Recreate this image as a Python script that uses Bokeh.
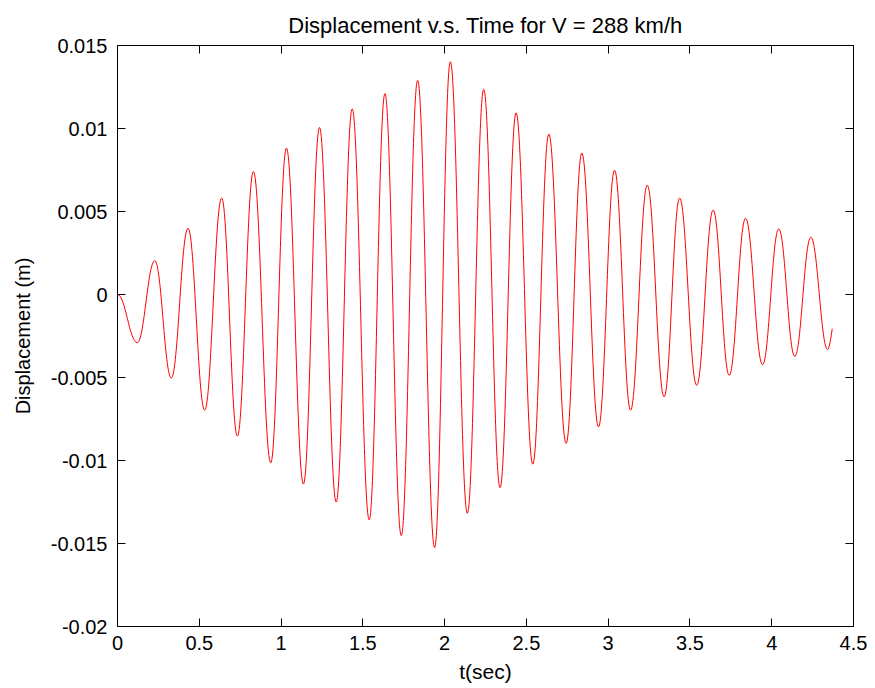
import numpy as np
from bokeh.plotting import figure
from bokeh.models import Range1d, LinearAxis, FixedTicker, ColumnDataSource
from bokeh.embed import file_html
from bokeh.resources import INLINE

# Turning points of the response (time in s, displacement in m)
t_sec = [0.000, 0.121, 0.228, 0.329, 0.431, 0.533, 0.637, 0.733, 0.831, 0.937,
         1.033, 1.137, 1.235, 1.337, 1.435, 1.539, 1.635, 1.735, 1.835, 1.939,
         2.035, 2.139, 2.239, 2.339, 2.437, 2.539, 2.637, 2.743, 2.839, 2.941,
         3.039, 3.137, 3.239, 3.342, 3.437, 3.541, 3.642, 3.740, 3.840, 3.944,
         4.043, 4.141, 4.239, 4.342, 4.370]
disp_m = [0.00000, -0.00290, 0.00204, -0.00503, 0.00399, -0.00697, 0.00581, -0.00853, 0.00741, -0.01014,
          0.00882, -0.01142, 0.01006, -0.01250, 0.01118, -0.01358, 0.01210, -0.01453, 0.01290, -0.01525,
          0.01402, -0.01318, 0.01236, -0.01164, 0.01094, -0.01022, 0.00966, -0.00897, 0.00852, -0.00797,
          0.00749, -0.00697, 0.00659, -0.00617, 0.00581, -0.00547, 0.00509, -0.00487, 0.00459, -0.00423,
          0.00395, -0.00373, 0.00345, -0.00332, -0.00206]

x_ticks = [0, 0.5, 1, 1.5, 2, 2.5, 3, 3.5, 4, 4.5]
x_tick_labels = ["0", "0.5", "1", "1.5", "2", "2.5", "3", "3.5", "4", "4.5"]
y_ticks = [-0.02, -0.015, -0.01, -0.005, 0, 0.005, 0.01, 0.015]
y_tick_labels = ["-0.02", "-0.015", "-0.01", "-0.005", "0", "0.005", "0.01", "0.015"]

FONT = "Liberation Sans"
FS = "20px"

# smooth half-cycles between consecutive turning points (horizontal tangents at extrema)
t = np.array(t_sec)
d = np.array(disp_m)
x0, x1 = t[:-1], t[1:]
y0, y1 = d[:-1], d[1:]
k = 0.40
cx0 = x0 + k * (x1 - x0)
cy0 = y0.copy()
cx1 = x1 - k * (x1 - x0)
cy1 = y1.copy()
# last point is not a turning point: end the curve straight into it
cx1[-1] = x1[-1]
cy1[-1] = y1[-1]
src = ColumnDataSource(dict(x0=x0, y0=y0, x1=x1, y1=y1, cx0=cx0, cy0=cy0, cx1=cx1, cy1=cy1))

p = figure(frame_width=736, frame_height=581,
           x_range=Range1d(0, 4.5), y_range=Range1d(-0.02, 0.015),
           output_backend="svg", toolbar_location=None,
           min_border_left=117, min_border_right=22, min_border_top=45, min_border_bottom=62,
           title="Displacement v.s. Time for V = 288 km/h",
           background_fill_color="white", border_fill_color="white")

p.bezier(x0="x0", y0="y0", x1="x1", y1="y1", cx0="cx0", cy0="cy0", cx1="cx1", cy1="cy1",
         source=src, line_color="#ff0000", line_width=1)

p.grid.visible = False
p.outline_line_color = "black"
p.outline_line_width = 1

p.title.text_font = FONT
p.title.text_font_size = "22px"
p.title.text_font_style = "normal"
p.title.align = "center"
p.title.text_color = "black"
p.title.standoff = 16

def style(ax, ticks, labels=None, show_labels=True):
    ax.ticker = FixedTicker(ticks=ticks)
    ax.major_tick_in = 8
    ax.major_tick_out = 0
    ax.minor_tick_in = 0
    ax.minor_tick_out = 0
    ax.axis_line_color = "black"
    ax.major_tick_line_color = "black"
    ax.major_label_text_font = FONT
    ax.major_label_text_color = "black"
    if show_labels:
        ax.major_label_text_font_size = FS
        ax.major_label_overrides = {tk: lb for tk, lb in zip(ticks, labels)}
    else:
        ax.major_label_text_font_size = "0px"
        ax.major_label_text_color = None
        ax.major_label_standoff = 0
    ax.axis_label_text_font = FONT
    ax.axis_label_text_font_size = FS
    ax.axis_label_text_font_style = "normal"
    ax.axis_label_text_color = "black"

xa = p.xaxis[0]
ya = p.yaxis[0]
style(xa, x_ticks, x_tick_labels)
style(ya, y_ticks, y_tick_labels)
xa.axis_label = "t(sec)"
ya.axis_label = "Displacement (m)"
xa.axis_label_text_font_size = "21px"
xa.major_label_standoff = 9
ya.major_label_standoff = 10
xa.axis_label_standoff = 7
ya.axis_label_standoff = 14

top = LinearAxis()
style(top, x_ticks, show_labels=False)
p.add_layout(top, "above")
right = LinearAxis()
style(right, y_ticks, show_labels=False)
p.add_layout(right, "right")

open("out.html", "w").write(file_html(p, INLINE))
